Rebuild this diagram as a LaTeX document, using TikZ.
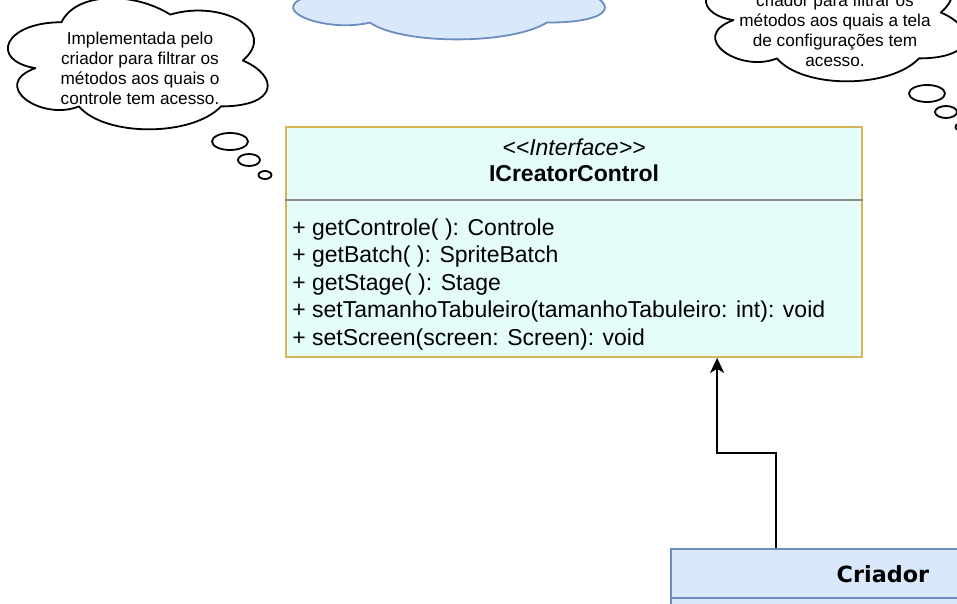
\documentclass[tikz,border=0pt]{standalone}
\usepackage{fontspec}
\setmainfont{Liberation Sans}
\newfontfamily\dejavu{DejaVu Sans}
\usetikzlibrary{positioning,shapes.geometric,arrows.meta}
\definecolor{ifacefill}{HTML}{E4FCFA}
\definecolor{ifaceline}{HTML}{D6B656}
\definecolor{bluefill}{HTML}{DAE8FC}
\definecolor{blueline}{HTML}{6C8EBF}
\definecolor{sepgrey}{HTML}{8C8C8C}
\tikzset{
  cloudline/.style={draw=black, fill=white, line width=1.8pt, line join=round},
  bluecloud/.style={draw=blueline, fill=bluefill, line width=1.8pt, line join=round},
  bubble/.style={ellipse, draw=black, fill=white, line width=1.8pt, inner sep=0pt},
  notetext/.style={align=center, inner sep=0pt, font=\fontsize{17.2}{20}\selectfont},
  ifacebox/.style={draw=ifaceline, fill=ifacefill, line width=1.8pt, inner sep=0pt},
  classbox/.style={draw=blueline, fill=bluefill, line width=1.8pt, inner sep=0pt},
  sepline/.style={draw=sepgrey, line width=1.8pt},
  umltext/.style={inner sep=0pt, font=\fontsize{23}{27.5}\selectfont},
  realize/.style={-{Stealth[length=15pt, width=14pt, inset=4pt]}, line width=1.8pt},
  pics/cloudpath/.style={code={
    \path[pic actions] (0.25,0.25) .. controls (0.05,0.25) and (0,0.5) .. (0.16,0.55)
      .. controls (0,0.66) and (0.18,0.9) .. (0.31,0.8)
      .. controls (0.4,1) and (0.7,1) .. (0.8,0.8)
      .. controls (1,0.8) and (1,0.6) .. (0.875,0.5)
      .. controls (1,0.3) and (0.8,0.1) .. (0.625,0.2)
      .. controls (0.5,0.05) and (0.3,0.05) .. (0.25,0.25) -- cycle;
  }},
}
\newcommand{\dbllt}{<\kern0pt<}
\newcommand{\dblgt}{>\kern0pt>}

\begin{document}
\begin{tikzpicture}[x=1pt, y=-1pt]
\useasboundingbox (0,0) rectangle (957,604);
\clip (0,0) rectangle (957,604);

% Blue cloud at the top
\pic[bluecloud, xscale=361, yscale=112] (topcloud) at (258,-67) {cloudpath};

% Left note
\pic[cloudline, xscale=290, yscale=153] (leftcloud) at (-11,-16) {cloudpath};
\node[notetext, anchor=south] (lnote) at (140,104.5) {Implementada pelo\\criador para filtrar os\\métodos aos quais o\\controle tem acesso.};
\node[bubble, minimum width=36pt, minimum height=17pt] (lb1) at (230,141.5) {};
\node[bubble, minimum width=22pt, minimum height=12pt] (lb2) at (249,160) {};
\node[bubble, minimum width=13pt, minimum height=8pt] (lb3) at (265,175) {};

% Right note
\pic[cloudline, xscale=290, yscale=153] (rightcloud) at (687,-64) {cloudpath};
\node[notetext, anchor=south] (rnote) at (835,66.7) {criador para filtrar os\\métodos aos quais a tela\\de configurações tem\\acesso.};
\node[bubble, minimum width=36pt, minimum height=17pt] (rb1) at (927,93.5) {};
\node[bubble, minimum width=22pt, minimum height=12pt] (rb2) at (946,112) {};
\node[bubble, minimum width=13pt, minimum height=8pt] (rb3) at (962,127) {};

% Interface ICreatorControl
\node[ifacebox, minimum width=576pt, minimum height=230pt] (iface) at (574,242) {};
\node[umltext, anchor=base] (stereo) at ([yshift=-29pt]iface.north) {\itshape\dbllt Interface\dblgt};
\node[umltext, anchor=base] (iname) at ([yshift=-55.5pt]iface.north) {\bfseries ICreatorControl};
\draw[sepline] ([yshift=-74pt]iface.north west) -- ([yshift=-74pt]iface.north east);
\node[umltext, anchor=base west] (m1) at ([xshift=7pt, yshift=-109pt]iface.north west) {+ getControle( ): Controle};
\node[umltext, anchor=base west] (m2) at ([yshift=-27.5pt]m1.base west) {+ getBatch( ): SpriteBatch};
\node[umltext, anchor=base west] (m3) at ([yshift=-27.5pt]m2.base west) {+ getStage( ): Stage};
\node[umltext, anchor=base west] (m4) at ([yshift=-27.5pt]m3.base west) {+ setTamanhoTabuleiro(tamanhoTabuleiro: int): void};
\node[umltext, anchor=base west] (m5) at ([yshift=-27.5pt]m4.base west) {+ setScreen(screen: Screen): void};

% Class Criador
\node[classbox, minimum width=424pt, minimum height=120pt, anchor=north west] (criador) at (670,548) {};
\draw[draw=blueline, line width=1.8pt] ([yshift=-50pt]criador.north west) -- ([yshift=-50pt]criador.north east);
\node[inner sep=0pt, font=\dejavu\bfseries\fontsize{22.3}{26}\selectfont] (cname) at ([yshift=-26pt]criador.north) {Criador};

% Realization arrow
\draw[realize] ([xshift=106pt]criador.north west) -- ++(0,-95) -| ([xshift=432pt]iface.south west);

\end{tikzpicture}
\end{document}
